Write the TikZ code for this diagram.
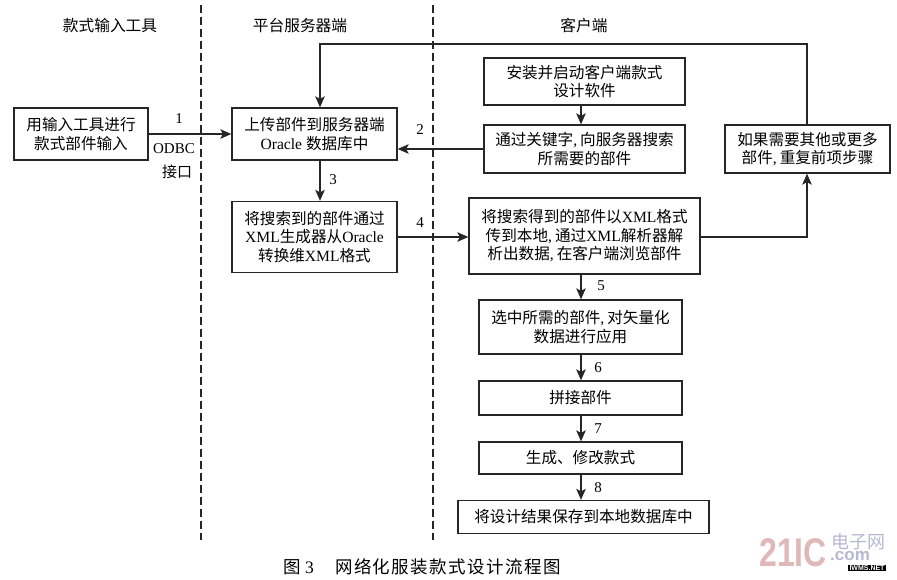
\documentclass[tikz,border=0pt]{standalone}
\usepackage{fontspec}
\usetikzlibrary{arrows.meta}
\setmainfont{Liberation Serif}
\newfontfamily\cjk{Noto Sans CJK SC}
\newfontfamily\cjkcap[LetterSpace=8]{Noto Sans CJK SC}
\newfontfamily\wmark{Liberation Sans}
\newcommand{\zh}[1]{{\cjk #1}}
\newcommand{\cm}{,\hspace{3pt}}
\tikzset{
  stepbox/.style={draw=black!85,line width=1.3pt,inner sep=0pt,align=center,font=\fontsize{15.6}{18.5}\selectfont},
  flow/.style={draw=black!85,line width=1.3pt,-{Stealth[length=11pt,width=9.5pt,inset=2.5pt]}},
  lane/.style={draw=black!85,line width=1.2pt,dash pattern=on 8pt off 4pt},
  heading/.style={font=\fontsize{15.7}{18}\selectfont},
  num/.style={font=\fontsize{15}{16}\selectfont,inner sep=0pt}
}
\begin{document}
\begin{tikzpicture}[x=1pt,y=-1pt]
\useasboundingbox (0,0) rectangle (897,579);
% lanes
\coordinate (d1t) at (201,5); \coordinate (d1b) at (201,540);
\coordinate (d2t) at (433,5); \coordinate (d2b) at (433,540);
\draw[lane] (d1t) -- (d1b);
\draw[lane] (d2t) -- (d2b);
% headings
\node[heading] (h1) at (110,26) {\zh{款式输入工具}};
\node[heading] (h2) at (300,26) {\zh{平台服务器端}};
\node[heading] (h3) at (584,26) {\zh{客户端}};
% boxes
\node[stepbox,minimum width=134pt,minimum height=52pt] (input) at (81,134) {\zh{用输入工具进行}\\\zh{款式部件输入}};
\node[stepbox,minimum width=165pt,minimum height=52pt] (upload) at (314.5,134) {\zh{上传部件到服务器端}\\Oracle \zh{数据库中}};
\node[stepbox,minimum width=165pt,minimum height=71pt] (convert) at (314.5,237) {\zh{将搜索到的部件通过}\\XML\zh{生成器从}Oracle\\\zh{转换维}XML\zh{格式}};
\node[stepbox,minimum width=201pt,minimum height=47pt] (install) at (584.5,81.5) {\zh{安装并启动客户端款式}\\\zh{设计软件}};
\node[stepbox,minimum width=201pt,minimum height=48pt] (search) at (584.5,149) {\zh{通过关键字}\cm\zh{向服务器搜索}\\\zh{所需要的部件}};
\node[stepbox,minimum width=231pt,minimum height=76pt] (parse) at (584.5,236) {\zh{将搜索得到的部件以}XML\zh{格式}\\\zh{传到本地}\cm\zh{通过}XML\zh{解析器解}\\\zh{析出数据}\cm\zh{在客户端浏览部件}};
\node[stepbox,minimum width=165pt,minimum height=48pt] (repeat) at (807.5,149) {\zh{如果需要其他或更多}\\\zh{部件}\cm\zh{重复前项步骤}};
\node[stepbox,minimum width=203pt,minimum height=54pt] (select) at (580.5,327) {\zh{选中所需的部件}\cm\zh{对矢量化}\\\zh{数据进行应用}};
\node[stepbox,minimum width=203pt,minimum height=34pt] (splice) at (580.5,398) {\zh{拼接部件}};
\node[stepbox,minimum width=203pt,minimum height=32pt] (make) at (580.5,458) {\zh{生成、修改款式}};
\node[stepbox,minimum width=251pt,minimum height=33pt] (save) at (583.5,517) {\zh{将设计结果保存到本地数据库中}};
% routing guides
\coordinate (cL) at (320,44);
\coordinate (cR) at (807,44);
\coordinate (cM) at (581,0);
\coordinate (cP) at (807,237);
% connectors
\draw[flow] (input.east) -- (upload.west);
\draw[flow] (search.west) -- (upload.east |- search.west);
\draw[flow] (upload.south -| cL) -- (convert.north -| cL);
\draw[flow] (convert.east) -- (parse.west |- convert.east);
\draw[flow] (install.south -| cM) -- (search.north -| cM);
\draw[flow] (parse.south -| cM) -- (select.north -| cM);
\draw[flow] (select.south -| cM) -- (splice.north -| cM);
\draw[flow] (splice.south -| cM) -- (make.north -| cM);
\draw[flow] (make.south -| cM) -- (save.north -| cM);
\draw[flow] (parse.east |- cP) -- (cP) -- (repeat.south -| cP);
\draw[flow] (repeat.north -| cR) -- (cR) -- (cL) -- (upload.north -| cL);
% labels
\node[num] (n1) at (179,119) {1};
\node[num] (n2) at (420,130) {2};
\node[num] (n3) at (333,180) {3};
\node[num] (n4) at (420,223) {4};
\node[num] (n5) at (601,286) {5};
\node[num] (n6) at (598,368) {6};
\node[num] (n7) at (598,429) {7};
\node[num] (n8) at (598,488) {8};
\node[font=\fontsize{15}{18}\selectfont,inner sep=0pt,align=center] (odbc) at (174,161) {ODBC\\[6pt]\hspace*{6pt}\zh{接口}};
% caption
\node[inner sep=0pt,anchor=west,font=\fontsize{17.5}{20}\selectfont] (cap) at (283,567) {{\cjk 图} 3};
\node[inner sep=0pt,anchor=west,font=\fontsize{17.5}{20}\selectfont] (cap2) at (335,567) {{\cjkcap 网络化服装款式设计流程图}};
% watermark
\node[inner sep=0pt,anchor=west,text=red!40!gray!40,font=\wmark\bfseries\fontsize{40}{40}\selectfont] (wm1) at (759,553) {\scalebox{0.8}[1]{21IC}};
\node[inner sep=0pt,anchor=west,text=blue!25!gray!45,font=\fontsize{18}{18}\selectfont] (wm2) at (831,542) {\zh{电子网}};
\node[inner sep=0pt,anchor=west,text=blue!25!gray!45,font=\wmark\bfseries\fontsize{17}{17}\selectfont] (wm3) at (830,556) {.com};
\node[fill=black,text=white,inner xsep=1.5pt,inner ysep=0.5pt,font=\wmark\bfseries\fontsize{7}{7}\selectfont] (wm4) at (867,568) {IWMS.NET};
\end{tikzpicture}
\end{document}
